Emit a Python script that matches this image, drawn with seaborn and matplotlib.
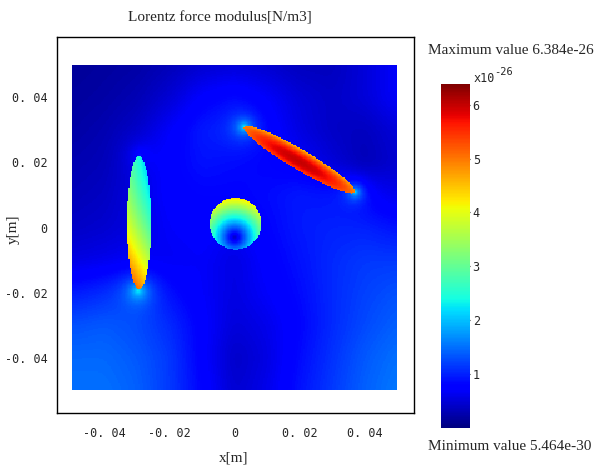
import numpy as np
import pandas as pd
import matplotlib
matplotlib.use('Agg')
import matplotlib.pyplot as plt
import seaborn as sns

sns.set_style('white')
plt.rcParams['font.family'] = ['Liberation Serif', 'DejaVu Serif']

# values in units of 1e-26 N/m3
vmin = 5.464e-4
vmax = 6.384

# background field on a coarse 0.01 m grid
grid_x = [-0.05, -0.04, -0.03, -0.02, -0.01, 0.0, 0.01, 0.02, 0.03, 0.04, 0.05]
grid_y = [0.05, 0.04, 0.03, 0.02, 0.01, 0.0, -0.01, -0.02, -0.03, -0.04, -0.05]
background = [
    [0.15, 0.18, 0.22, 0.32, 0.45, 0.50, 0.45, 0.35, 0.35, 0.50, 0.70],
    [0.18, 0.22, 0.30, 0.48, 0.75, 0.85, 0.70, 0.50, 0.40, 0.50, 0.70],
    [0.22, 0.28, 0.40, 0.70, 0.95, 1.00, 0.80, 0.55, 0.40, 0.35, 0.50],
    [0.28, 0.32, 0.50, 0.75, 0.90, 0.85, 0.80, 0.70, 0.50, 0.30, 0.45],
    [0.33, 0.38, 0.55, 0.75, 0.80, 0.80, 0.85, 0.95, 0.90, 0.70, 0.60],
    [0.40, 0.45, 0.55, 0.70, 0.75, 0.70, 0.80, 0.95, 1.00, 1.00, 0.90],
    [0.55, 0.60, 0.65, 0.65, 0.70, 0.55, 0.75, 0.90, 1.05, 1.15, 1.15],
    [0.95, 1.05, 1.10, 0.85, 0.70, 0.55, 0.70, 0.85, 1.05, 1.20, 1.30],
    [1.30, 1.35, 1.25, 1.05, 0.75, 0.50, 0.60, 0.80, 1.05, 1.25, 1.40],
    [1.45, 1.45, 1.35, 1.15, 0.75, 0.40, 0.55, 0.85, 1.10, 1.35, 1.50],
    [1.50, 1.50, 1.40, 1.15, 0.80, 0.45, 0.60, 0.90, 1.15, 1.40, 1.55],
]

# bright spots at the tips of the ellipses: x, y, peak, radius
tip_x = [-0.0298, -0.0293, 0.0030, 0.0372]
tip_y = [-0.0195, 0.0225, 0.0310, 0.0110]
tip_peak = [1.3, 0.4, 1.4, 1.4]
tip_radius = [0.0028, 0.0030, 0.0022, 0.0022]

# left ellipse: centre, semi axes, centre value, vertical slope, vertical curve, horizontal slope
left_c = [-0.0295, 0.0015]
left_ax = [0.0037, 0.0205]
left_val = [3.3, -1.3, 0.4, -0.6]

# circle: centre, radius, dark point, value at dark point, slope
circ_c = [0.0003, 0.0012]
circ_r = 0.0080
circ_dark = [0.0, -0.0030]
circ_val = [0.4, 320.0]

# tilted ellipse: centre, semi axes, angle, centre value, drop at rim
tilt_c = [0.0200, 0.0210]
tilt_ax = [0.0198, 0.0031]
tilt_angle = -30.5
tilt_val = [5.95, 1.0]

n = 260
xs = np.linspace(-0.05, 0.05, n)
ys = np.linspace(0.05, -0.05, n)
X, Y = np.meshgrid(xs, ys)

bg = np.array(background)
tmp = np.array([np.interp(xs, grid_x, row) for row in bg])
field = np.array([np.interp(-ys, -np.array(grid_y), tmp[:, j]) for j in range(n)]).T

# soften the coarse grid
k = np.exp(-0.5 * (np.arange(-12, 13) / 5.0) ** 2)
k /= k.sum()
pad = np.pad(field, 12, mode='edge')
pad = np.apply_along_axis(lambda r: np.convolve(r, k, mode='same'), 1, pad)
pad = np.apply_along_axis(lambda r: np.convolve(r, k, mode='same'), 0, pad)
field = pad[12:-12, 12:-12]

for tx, ty, tp, tr in zip(tip_x, tip_y, tip_peak, tip_radius):
    d = np.hypot(X - tx, Y - ty)
    field += tp * np.exp(-d / tr)

xn = (X - left_c[0]) / left_ax[0]
yn = (Y - left_c[1]) / left_ax[1]
m = xn ** 2 + yn ** 2 <= 1
field[m] = (left_val[0] + left_val[1] * yn + left_val[2] * yn ** 2 + left_val[3] * xn)[m]

m = np.hypot(X - circ_c[0], Y - circ_c[1]) <= circ_r
field[m] = (circ_val[0] + circ_val[1] * np.hypot(X - circ_dark[0], Y - circ_dark[1]))[m]

t = np.deg2rad(tilt_angle)
u = ((X - tilt_c[0]) * np.cos(t) + (Y - tilt_c[1]) * np.sin(t)) / tilt_ax[0]
w = (-(X - tilt_c[0]) * np.sin(t) + (Y - tilt_c[1]) * np.cos(t)) / tilt_ax[1]
m = u ** 2 + w ** 2 <= 1
field[m] = (tilt_val[0] - tilt_val[1] * (u ** 2 + w ** 2) - 0.4 * w)[m]

df = pd.DataFrame(field)

fig = plt.figure(figsize=(5.99, 4.68), dpi=100)
ax = fig.add_axes([0.0952, 0.1175, 0.596, 0.803])
cax = fig.add_axes([0.736, 0.0855, 0.0484, 0.735])

sns.heatmap(df, cmap='jet', vmin=vmin, vmax=vmax, ax=ax, cbar_ax=cax,
            xticklabels=False, yticklabels=False, rasterized=True)


def col(v):
    return (v + 0.05) / 0.1 * n


def row(v):
    return (0.05 - v) / 0.1 * n


ax.set_xlim(col(-0.0546), col(0.0552))
ax.set_ylim(row(-0.0570), row(0.0585))
for s in ax.spines.values():
    s.set_visible(True)
    s.set_color('black')
    s.set_linewidth(1.0)

xticks = [-0.04, -0.02, 0.0, 0.02, 0.04]
xtick_labels = ['-0. 04', '-0. 02', '0', '0. 02', '0. 04']
yticks = [0.04, 0.02, 0.0, -0.02, -0.04]
ytick_labels = ['0. 04', '0. 02', '0', '-0. 02', '-0. 04']
ax.set_xticks([col(v) for v in xticks])
ax.set_xticklabels(xtick_labels, fontfamily='DejaVu Sans Mono', fontsize=8.5, rotation=0)
ax.set_yticks([row(v) for v in yticks])
ax.set_yticklabels(ytick_labels, fontfamily='DejaVu Sans Mono', fontsize=8.5, rotation=0)
ax.tick_params(axis='x', length=0, pad=10)
ax.tick_params(axis='y', length=0, pad=7)
ax.set_xlabel('')
ax.set_ylabel('')

cbar = ax.collections[0].colorbar
cbar.set_ticks([1, 2, 3, 4, 5, 6])
cbar.set_ticklabels(['1', '2', '3', '4', '5', '6'])
cax.tick_params(direction='in', length=4, width=0.8, left=True, right=True,
                labelleft=False, labelright=True, pad=2, color='#222222')
for lab in cax.get_yticklabels():
    lab.set_fontfamily('DejaVu Sans Mono')
    lab.set_fontsize(8.5)

fig.text(0.367, 0.9615, 'Lorentz force modulus[N/m3]', ha='center', va='center', fontsize=11)
fig.text(0.7145, 0.893, 'Maximum value 6.384e-26', ha='left', va='center', fontsize=11)
fig.text(0.7145, 0.0449, 'Minimum value 5.464e-30', ha='left', va='center', fontsize=11)
fig.text(0.3907, 0.0214, 'x[m]', ha='center', va='center', fontsize=11)
fig.text(0.0217, 0.511, 'y[m]', ha='center', va='center', fontsize=11, rotation=90)
fig.text(0.790, 0.833, 'x10', ha='left', va='center', fontsize=8.5, fontfamily='DejaVu Sans Mono')
fig.text(0.825, 0.846, '-26', ha='left', va='center', fontsize=7.5, fontfamily='DejaVu Sans Mono')

fig.savefig('out.png', dpi=100)
